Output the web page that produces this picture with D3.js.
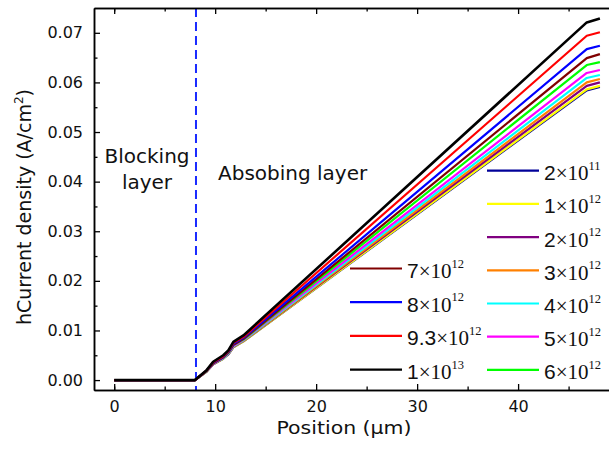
<!DOCTYPE html>
<html><head><meta charset="utf-8">
<script src="https://cdn.jsdelivr.net/npm/d3@7"></script>
<style>body{margin:0;background:#fff}svg{display:block}</style>
</head><body>
<svg id="c" width="609" height="450"></svg>
<script>
// Shared x positions (µm)
const positions = [0, 8, 9.15, 9.8, 10.8, 11.3, 11.8, 12.8, 46.8, 48.1];
// Current density series (A/cm^2)
const s2e11  = [0, 0, 0.0017, 0.0032, 0.0043, 0.0052, 0.0066, 0.0078, 0.0584, 0.0591];
const s1e12  = [0, 0, 0.0017, 0.0032, 0.0043, 0.0052, 0.0066, 0.0078, 0.0586, 0.0593];
const s2e12  = [0, 0, 0.0017, 0.0032, 0.0044, 0.0052, 0.0067, 0.0079, 0.0593, 0.0600];
const s3e12  = [0, 0, 0.0018, 0.0033, 0.0044, 0.0053, 0.0068, 0.0079, 0.0600, 0.0607];
const s4e12  = [0, 0, 0.0018, 0.0033, 0.0044, 0.0053, 0.0068, 0.0080, 0.0609, 0.0615];
const s5e12  = [0, 0, 0.0018, 0.0033, 0.0045, 0.0054, 0.0069, 0.0081, 0.0619, 0.0625];
const s6e12  = [0, 0, 0.0018, 0.0034, 0.0046, 0.0055, 0.0071, 0.0082, 0.0635, 0.0641];
const s7e12  = [0, 0, 0.0019, 0.0034, 0.0046, 0.0056, 0.0071, 0.0083, 0.0649, 0.0657];
const s8e12  = [0, 0, 0.0019, 0.0035, 0.0047, 0.0057, 0.0073, 0.0085, 0.0667, 0.0674];
const s93e12 = [0, 0, 0.0019, 0.0036, 0.0048, 0.0058, 0.0075, 0.0087, 0.0694, 0.0701];
const s1e13  = [0, 0, 0.0020, 0.0037, 0.0050, 0.0060, 0.0077, 0.0090, 0.0721, 0.0729];

const seriesValues   = [s2e11, s1e12, s2e12, s3e12, s4e12, s5e12, s6e12, s7e12, s8e12, s93e12, s1e13];
const seriesMantissa = ["2", "1", "2", "3", "4", "5", "6", "7", "8", "9.3", "1"];
const seriesExponent = ["11", "12", "12", "12", "12", "12", "12", "12", "12", "12", "13"];
const seriesColors   = ["#000099", "#ffff00", "#800080", "#ff8000", "#00ffff", "#ff00ff", "#00ff00", "#800000", "#0000ff", "#ff0000", "#000000"];

const xTicks = [0, 10, 20, 30, 40];
const xMinorTicks = [-0.0001, 5, 15, 25, 35, 45];
const yTicks = [0, 0.01, 0.02, 0.03, 0.04, 0.05, 0.06, 0.07];
const yMinorTicks = [0.005, 0.015, 0.025, 0.035, 0.045, 0.055, 0.065];
const layerBoundary = 8.1;

const svg = d3.select("#c");
const L = 94, R = 611, T = 8, B = 390;
const x = d3.scaleLinear().domain([-2, 49.2]).range([L, R]);
const y = d3.scaleLinear().domain([-0.002, 0.075]).range([B, T]);

const AX = "DejaVu Sans, sans-serif";

// dashed boundary
svg.append("line")
  .attr("x1", x(layerBoundary)).attr("x2", x(layerBoundary))
  .attr("y1", T).attr("y2", B)
  .attr("stroke", "#1a2bff").attr("stroke-width", 2)
  .attr("stroke-dasharray", "9,5");

// series
const line = d3.line().x((d, i) => x(positions[i])).y(d => y(d));
seriesValues.forEach((vals, k) => {
  svg.append("path").datum(vals)
    .attr("d", line)
    .attr("fill", "none")
    .attr("stroke", seriesColors[k])
    .attr("stroke-width", k === 10 ? 2.6 : 2.2)
    .attr("stroke-linejoin", "round");
});

// axes
function styleAxis(g) {
  g.selectAll(".domain").attr("stroke", "#000").attr("stroke-width", 1.5);
  g.selectAll(".tick line").attr("stroke", "#000").attr("stroke-width", 1.3);
  g.selectAll("text").attr("font-family", AX).attr("font-size", 16).attr("fill", "#111");
}
const gx = svg.append("g").attr("transform", `translate(0,${B})`)
  .call(d3.axisBottom(x).tickValues(xTicks).tickFormat(d3.format("d")).tickSizeInner(-6).tickSizeOuter(0).tickPadding(10.5));
styleAxis(gx);
const gxm = svg.append("g").attr("transform", `translate(0,${B})`)
  .call(d3.axisBottom(x).tickValues(xMinorTicks).tickFormat("").tickSizeInner(-3.5).tickSizeOuter(0));
styleAxis(gxm);
const gxt = svg.append("g").attr("transform", `translate(0,${T})`)
  .call(d3.axisTop(x).tickValues(xTicks).tickFormat("").tickSizeInner(-6).tickSizeOuter(0));
styleAxis(gxt);
const gxtm = svg.append("g").attr("transform", `translate(0,${T})`)
  .call(d3.axisTop(x).tickValues(xMinorTicks).tickFormat("").tickSizeInner(-3.5).tickSizeOuter(0));
styleAxis(gxtm);

const gy = svg.append("g").attr("transform", `translate(${L},0)`)
  .call(d3.axisLeft(y).tickValues(yTicks).tickFormat(d3.format(".2f")).tickSizeInner(-6).tickSizeOuter(0).tickPadding(11));
styleAxis(gy);
const gym = svg.append("g").attr("transform", `translate(${L},0)`)
  .call(d3.axisLeft(y).tickValues(yMinorTicks).tickFormat("").tickSizeInner(-3.5).tickSizeOuter(0));
styleAxis(gym);

// axis titles
svg.append("text").attr("x", 276.5).attr("y", 433.5)
  .attr("font-family", AX).attr("font-size", 17.5).attr("fill", "#111")
  .attr("textLength", 135).attr("lengthAdjust", "spacingAndGlyphs")
  .text("Position (\u03bcm)");
const yt = svg.append("text")
  .attr("transform", "translate(31,207) rotate(-90)")
  .attr("text-anchor", "middle").attr("font-family", AX).attr("font-size", 19).attr("fill", "#111");
yt.append("tspan").text("hCurrent density (A/cm");
yt.append("tspan").attr("font-size", 12).attr("dy", -8).text("2");
yt.append("tspan").attr("dy", 8).text(")");

// layer annotations
svg.append("text").attr("x", 147).attr("y", 163).attr("text-anchor", "middle")
  .attr("font-family", AX).attr("font-size", 20).attr("fill", "#111").text("Blocking");
svg.append("text").attr("x", 147).attr("y", 189).attr("text-anchor", "middle")
  .attr("font-family", AX).attr("font-size", 20).attr("fill", "#111").text("layer");
svg.append("text").attr("x", 218).attr("y", 180)
  .attr("font-family", AX).attr("font-size", 20).attr("fill", "#111").text("Absobing layer");

// legend
function legendItem(k, lx, ly) {
  svg.append("line").attr("x1", lx).attr("x2", lx + 52).attr("y1", ly).attr("y2", ly)
    .attr("stroke", seriesColors[k]).attr("stroke-width", 2.2);
  const t = svg.append("text").attr("x", lx + 57).attr("y", ly + 9.5).attr("fill", "#111");
  t.append("tspan").attr("font-family", "Liberation Sans, Arial, sans-serif").attr("font-size", 21).text(seriesMantissa[k]);
  t.append("tspan").attr("font-family", "Liberation Serif, Times New Roman, serif").attr("font-size", 21).text("\u00d710");
  t.append("tspan").attr("font-family", "Liberation Serif, Times New Roman, serif").attr("font-size", 12.5)
    .attr("dy", -10.5).text(seriesExponent[k]);
}
for (let k = 0; k <= 6; k++) legendItem(k, 487, 170.7 + k * 33.2);
for (let k = 7; k <= 10; k++) legendItem(k, 350, 268.5 + (k - 7) * 33.7);
</script>
</body></html>
